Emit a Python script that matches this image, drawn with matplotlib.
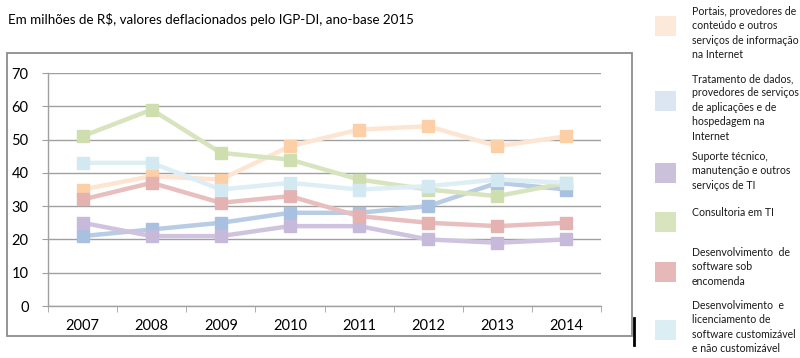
import matplotlib.pyplot as plt
from matplotlib.patches import Rectangle
from matplotlib.lines import Line2D

plt.rcParams['font.family'] = ['Lato', 'DejaVu Sans']

years = ['2007', '2008', '2009', '2010', '2011', '2012', '2013', '2014']

portais = [35, 39, 38, 48, 53, 54, 48, 51]
tratamento = [21, 23, 25, 28, 28, 30, 37, 35]
suporte = [25, 21, 21, 24, 24, 20, 19, 20]
consultoria = [51, 59, 46, 44, 38, 35, 33, 37]
sob_encomenda = [32, 37, 31, 33, 27, 25, 24, 25]
licenciamento = [43, 43, 35, 37, 35, 36, 38, 37]

labels = [
    'Portais, provedores de\nconteúdo e outros\nserviços de informação\nna Internet',
    'Tratamento de dados,\nprovedores de serviços\nde aplicações e de\nhospedagem na\nInternet',
    'Suporte técnico,\nmanutenção e outros\nserviços de TI',
    'Consultoria em TI',
    'Desenvolvimento  de\nsoftware sob\nencomenda',
    'Desenvolvimento  e\nlicenciamento de\nsoftware customizável\ne não customizável',
]
series = [portais, tratamento, suporte, consultoria, sob_encomenda, licenciamento]

line_colors = ['#FDE5D2', '#B8CCE4', '#CFC3DF', '#D7E4BD', '#E8BFBE', '#DDEEF5']
marker_colors = ['#FCCFA6', '#A9C1E0', '#C6B9D9', '#CFDEAE', '#E4B2B0', '#D2E9F1']
patch_colors = ['#FDE9D9', '#DCE6F2', '#CCC1DA', '#D7E4BD', '#E6B9B8', '#DBEEF4']

W, H = 800, 358
fig = plt.figure(figsize=(8, 3.58), dpi=100)

def fx(px):
    return px / W

def fy(py):
    return 1 - py / H

# outer chart frame
fig.patches.append(Rectangle((fx(7), fy(336)), fx(632 - 7), fy(53) - fy(336),
                             transform=fig.transFigure, fill=False,
                             edgecolor='#8C8C8C', lw=1.3))
fig.add_artist(Line2D([fx(634), fx(634)], [fy(318), fy(345)],
                      transform=fig.transFigure, color='black', lw=2))

ax = fig.add_axes([fx(48), fy(306), fx(601 - 48), fy(73) - fy(306)])
x = list(range(len(years)))
for vals, lc, mc in zip(series, line_colors, marker_colors):
    ax.plot(x, vals, color=lc, lw=3.2, marker='s', ms=8,
            markerfacecolor=mc, markeredgecolor=mc, solid_joinstyle='miter')

ax.set_xlim(-0.5, len(years) - 0.5)
ax.set_ylim(0, 70)
ax.set_yticks(range(0, 71, 10))
ax.set_xticks(x)
ax.set_xticklabels(years)
ax.set_xticks([i - 0.5 for i in range(len(years) + 1)], minor=True)
ax.tick_params(axis='x', which='major', length=0, pad=9, labelsize=10.5, colors='black')
ax.tick_params(axis='x', which='minor', length=4, color='#A0A0A0', direction='out')
ax.tick_params(axis='y', length=4, color='#A0A0A0', labelsize=10.5, pad=10)
ax.yaxis.grid(True, color='#A0A0A0', lw=1)
ax.set_axisbelow(True)
for s in ['top', 'right']:
    ax.spines[s].set_visible(False)
for s in ['left', 'bottom']:
    ax.spines[s].set_color('#A0A0A0')
    ax.spines[s].set_linewidth(1)

fig.text(fx(8), fy(20), 'Em milhões de R$, valores deflacionados pelo IGP-DI, ano-base 2015',
         fontsize=9.6, va='center', ha='left')

# legend on the right
text_tops = [6, 73, 151, 207, 247, 300]
patch_centers = [26, 101, 173, 222, 272, 330]
for lab, pc, tt, pcen in zip(labels, patch_colors, text_tops, patch_centers):
    fig.patches.append(Rectangle((fx(655), fy(pcen + 10)), fx(21), fy(pcen - 10) - fy(pcen + 10),
                                 transform=fig.transFigure, color=pc, lw=0))
    fig.text(fx(692), fy(tt), lab, fontsize=7.6, va='top', ha='left',
             linespacing=1.38, color='#1a1a1a')

fig.savefig('out.png', dpi=100)
